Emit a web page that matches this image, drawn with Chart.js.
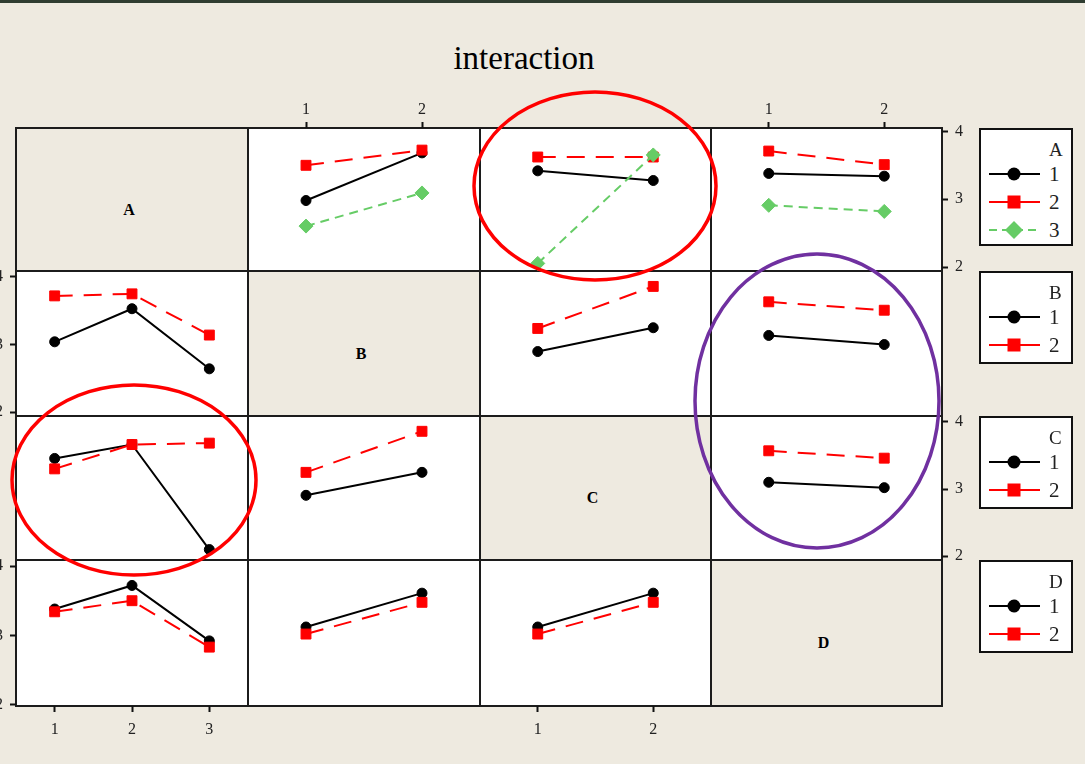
<!DOCTYPE html>
<html>
<head>
<meta charset="utf-8">
<title>interaction</title>
<script src="https://cdn.jsdelivr.net/npm/chart.js@4.4.0/dist/chart.umd.min.js"></script>
<style>
  html, body { margin: 0; padding: 0; }
  body {
    width: 1085px; height: 764px; position: relative; overflow: hidden;
    background: #EEEAE0; font-family: 'Liberation Serif', 'DejaVu Serif', serif;
  }
  #band { position: absolute; left: 0; top: 0; width: 1085px; height: 3px; background: #2f3d31; }
  #title {
    position: absolute; left: 0; top: 42px; width: 1048px; text-align: center;
    font-size: 33px; line-height: 33px; color: #000;
  }
  .cell { position: absolute; z-index: 1; }
  .rule { position: absolute; background: #1c1c1c; z-index: 2; }
  .diag {
    position: absolute; z-index: 3; font-weight: bold; font-size: 16px;
    transform: translate(-50%, -50%); color: #000;
  }
  canvas.panel { position: absolute; z-index: 4; }
  .legend {
    position: absolute; z-index: 4; box-sizing: border-box; width: 94px;
    background: #fff; border: 2px solid #111;
  }
  .legend .head, .legend .lab {
    position: absolute; left: 68px; color: #222; transform: translateY(-50%);
  }
  .legend .head { font-size: 19px; line-height: 19px; }
  .legend .lab { font-size: 21px; line-height: 21px; }
  .legend svg { position: absolute; left: 6px; }
  #marks { position: absolute; left: 0; top: 0; z-index: 6; pointer-events: none; }
</style>
</head>
<body>
<div id="band"></div>
<div id="title">interaction</div>
<svg id="marks" width="1085" height="764">
  <ellipse cx="595" cy="186" rx="121" ry="94" fill="none" stroke="#FF0000" stroke-width="3.5"/>
  <ellipse cx="134" cy="480" rx="122" ry="95" fill="none" stroke="#FF0000" stroke-width="3.5"/>
  <ellipse cx="817" cy="401" rx="122" ry="147" fill="none" stroke="#7030A0" stroke-width="3.5"/>
</svg>
<script>
// ---- factors and their levels ----
const factorNames = ['A', 'B', 'C', 'D'];
const levelsA = [1, 2, 3];
const levelsB = [1, 2];
const levelsC = [1, 2];
const levelsD = [1, 2];
const yTicks = [2, 3, 4];

// ---- mean response: one row per level of the trace factor,
//      one column per level of the factor on the x axis ----
const meansA_B = [[3.00, 3.69], [3.51, 3.73], [2.63, 3.11]];
const meansA_C = [[3.43, 3.29], [3.63, 3.63], [2.09, 3.66]];
const meansA_D = [[3.38, 3.34], [3.71, 3.51], [2.91, 2.82]];

const meansB_A = [[3.04, 3.53, 2.64], [3.72, 3.75, 3.14]];
const meansB_C = [[2.90, 3.24], [3.23, 3.83]];
const meansB_D = [[3.13, 3.00], [3.61, 3.49]];

const meansC_A = [[3.44, 3.64, 2.13], [3.29, 3.64, 3.66]];
const meansC_B = [[2.91, 3.24], [3.24, 3.83]];
const meansC_D = [[3.10, 3.02], [3.57, 3.46]];

const meansD_A = [[3.38, 3.72, 2.92], [3.34, 3.50, 2.83]];
const meansD_B = [[3.10, 3.58], [3.00, 3.45]];
const meansD_C = [[3.10, 3.58], [3.00, 3.45]];

const levels = { A: levelsA, B: levelsB, C: levelsC, D: levelsD };
const cellMeans = {
  'A|B': meansA_B, 'A|C': meansA_C, 'A|D': meansA_D,
  'B|A': meansB_A, 'B|C': meansB_C, 'B|D': meansB_D,
  'C|A': meansC_A, 'C|B': meansC_B, 'C|D': meansC_D,
  'D|A': meansD_A, 'D|B': meansD_B, 'D|C': meansD_C
};

// ---- layout of the matrix ----
const COL_EDGES = [16, 248, 480, 711, 942];
const ROW_EDGES = [128, 271, 416, 560, 706];
const Y_MIN = 1.98, Y_MAX = 4.05;
const EDGE_PAD = 14;
const AXIS_BAND = { top: 40, bottom: 40, left: 16, right: 40 };
const LABEL_GAP = { top: 3, bottom: 8, left: 7, right: 7 };
const FRAME_W = 2;

const traceStyles = [
  { color: '#000000', dash: [], point: 'circle', radius: 5, legendDash: '' },
  { color: '#FF0000', dash: [18, 11], point: 'rect', radius: 7, legendDash: '' },
  { color: '#66CC66', dash: [9, 6], point: 'rectRot', radius: 7, legendDash: '8 5' }
];

const tickFont = { family: "'Liberation Serif', serif", size: 16 };

function addDiv(cls, x, y, w, h, bg) {
  const d = document.createElement('div');
  d.className = cls;
  Object.assign(d.style, { left: x + 'px', top: y + 'px', width: w + 'px', height: h + 'px' });
  if (bg) d.style.background = bg;
  document.body.appendChild(d);
  return d;
}

// cell backgrounds and diagonal labels
for (let r = 0; r < 4; r++) {
  for (let c = 0; c < 4; c++) {
    const x0 = COL_EDGES[c], x1 = COL_EDGES[c + 1];
    const y0 = ROW_EDGES[r], y1 = ROW_EDGES[r + 1];
    addDiv('cell', x0, y0, x1 - x0, y1 - y0, r === c ? '#EEEAE0' : '#FFFFFF');
    if (r === c) {
      const t = document.createElement('div');
      t.className = 'diag';
      t.textContent = factorNames[r];
      t.style.left = ((x0 + x1) / 2 - 3) + 'px';
      t.style.top = ((y0 + y1) / 2 + 10) + 'px';
      document.body.appendChild(t);
    }
  }
}

// frame rules
COL_EDGES.forEach(x => addDiv('rule', x - FRAME_W / 2, ROW_EDGES[0] - FRAME_W / 2,
  FRAME_W, ROW_EDGES[4] - ROW_EDGES[0] + FRAME_W));
ROW_EDGES.forEach(y => addDiv('rule', COL_EDGES[0] - FRAME_W / 2, y - FRAME_W / 2,
  COL_EDGES[4] - COL_EDGES[0] + FRAME_W, FRAME_W));

function axisCommon(values, shown, side, horizontal) {
  const band = shown ? AXIS_BAND[side] : 0;
  return {
    display: shown,
    position: side,
    ticks: { font: tickFont, color: '#222', padding: LABEL_GAP[side] },
    grid: {
      display: true, drawOnChartArea: false, drawTicks: true,
      tickLength: 6, tickWidth: 2, tickColor: '#111'
    },
    border: { display: false },
    afterBuildTicks: s => { s.ticks = values.map(v => ({ value: v })); },
    afterFit: s => { if (horizontal) s.height = band; else s.width = band; }
  };
}

function makePanel(r, c) {
  const tf = factorNames[r], xf = factorNames[c];
  const means = cellMeans[tf + '|' + xf];
  const xLv = levels[xf], tLv = levels[tf];

  const showTop = r === 0 && c % 2 === 1;
  const showBottom = r === 3 && c % 2 === 0;
  const showLeft = c === 0 && r % 2 === 1;
  const showRight = c === 3 && r % 2 === 0;

  const padL = showLeft ? AXIS_BAND.left : EDGE_PAD;
  const padR = showRight ? AXIS_BAND.right : EDGE_PAD;
  const padT = showTop ? AXIS_BAND.top : EDGE_PAD;
  const padB = showBottom ? AXIS_BAND.bottom : EDGE_PAD;

  const x0 = COL_EDGES[c], x1 = COL_EDGES[c + 1];
  const y0 = ROW_EDGES[r], y1 = ROW_EDGES[r + 1];

  const cv = document.createElement('canvas');
  cv.className = 'panel';
  cv.width = x1 - x0 + padL + padR;
  cv.height = y1 - y0 + padT + padB;
  cv.style.left = (x0 - padL) + 'px';
  cv.style.top = (y0 - padT) + 'px';
  cv.style.width = cv.width + 'px';
  cv.style.height = cv.height + 'px';
  document.body.appendChild(cv);

  const datasets = tLv.map((lv, k) => {
    const st = traceStyles[k];
    return {
      label: tf + ' = ' + lv,
      data: xLv.map((xv, j) => ({ x: xv, y: means[k][j] })),
      borderColor: st.color,
      backgroundColor: st.color,
      borderWidth: 2,
      borderDash: st.dash,
      pointStyle: st.point,
      pointRadius: st.radius,
      pointBorderWidth: 1,
      pointBackgroundColor: st.color,
      pointBorderColor: st.color,
      tension: 0,
      fill: false,
      order: -k,
      clip: false
    };
  });

  const xScale = axisCommon(xLv, showTop || showBottom, showTop ? 'top' : 'bottom', true);
  const yScale = axisCommon(yTicks, showLeft || showRight, showRight ? 'right' : 'left', false);

  new Chart(cv, {
    type: 'line',
    data: { datasets },
    options: {
      responsive: false,
      maintainAspectRatio: false,
      animation: false,
      devicePixelRatio: 1,
      events: [],
      layout: {
        padding: {
          left: showLeft ? 0 : EDGE_PAD,
          right: showRight ? 0 : EDGE_PAD,
          top: showTop ? 0 : EDGE_PAD,
          bottom: showBottom ? 0 : EDGE_PAD
        }
      },
      plugins: { legend: { display: false }, tooltip: { enabled: false }, title: { display: false } },
      scales: {
        x: Object.assign({ type: 'linear', min: 0.5, max: xLv.length + 0.5 }, xScale),
        y: Object.assign({ type: 'linear', min: Y_MIN, max: Y_MAX }, yScale)
      }
    }
  });
}

for (let r = 0; r < 4; r++) {
  for (let c = 0; c < 4; c++) {
    if (r !== c) makePanel(r, c);
  }
}

// one legend box per trace factor, beside its row
const SVGNS = 'http://www.w3.org/2000/svg';
function legendSample(st) {
  const svg = document.createElementNS(SVGNS, 'svg');
  svg.setAttribute('width', '56');
  svg.setAttribute('height', '20');
  const cy = 10, cx = 27;
  const ln = document.createElementNS(SVGNS, 'line');
  ln.setAttribute('x1', '2'); ln.setAttribute('x2', '53');
  ln.setAttribute('y1', cy); ln.setAttribute('y2', cy);
  ln.setAttribute('stroke', st.color); ln.setAttribute('stroke-width', '2');
  if (st.legendDash) ln.setAttribute('stroke-dasharray', st.legendDash);
  svg.appendChild(ln);
  let mk;
  if (st.point === 'circle') {
    mk = document.createElementNS(SVGNS, 'circle');
    mk.setAttribute('cx', cx); mk.setAttribute('cy', cy); mk.setAttribute('r', '6.5');
  } else if (st.point === 'rect') {
    mk = document.createElementNS(SVGNS, 'rect');
    mk.setAttribute('x', cx - 6.5); mk.setAttribute('y', cy - 6.5);
    mk.setAttribute('width', '13'); mk.setAttribute('height', '13');
  } else {
    mk = document.createElementNS(SVGNS, 'polygon');
    mk.setAttribute('points', `${cx - 9},${cy} ${cx},${cy - 9} ${cx + 9},${cy} ${cx},${cy + 9}`);
  }
  mk.setAttribute('fill', st.color);
  svg.appendChild(mk);
  return svg;
}

factorNames.forEach((f, r) => {
  const lv = levels[f];
  const box = document.createElement('div');
  box.className = 'legend';
  box.style.left = '979px';
  box.style.top = ROW_EDGES[r] + 'px';
  box.style.height = (43 + 25 * lv.length) + 'px';
  const head = document.createElement('div');
  head.className = 'head';
  head.textContent = f;
  head.style.top = '19px';
  box.appendChild(head);
  lv.forEach((v, k) => {
    const cy = 44 + 28 * k;
    const s = legendSample(traceStyles[k]);
    s.style.top = (cy - 10) + 'px';
    box.appendChild(s);
    const lab = document.createElement('div');
    lab.className = 'lab';
    lab.textContent = v;
    lab.style.top = cy + 'px';
    box.appendChild(lab);
  });
  document.body.appendChild(box);
});
</script>
</body>
</html>
